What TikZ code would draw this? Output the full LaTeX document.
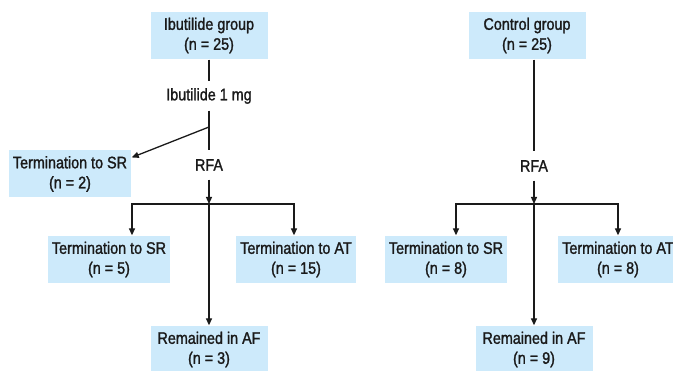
\documentclass[tikz,border=0pt]{standalone}
\usepackage{fontspec}
\setmainfont{Liberation Sans}[FakeStretch=0.86, FakeBold=1.4]
\usetikzlibrary{arrows.meta}
\definecolor{boxblue}{HTML}{CDEAFB}
\definecolor{ink}{HTML}{1A1A1A}
\begin{document}
\begin{tikzpicture}[x=1pt, y=-1pt, line width=1.3pt, draw=ink,
        box/.style={fill=boxblue, align=center, text=ink, minimum width=117pt, minimum height=47pt, inner xsep=4pt, font=\fontsize{16.7}{20}\selectfont},
        step txt/.style={text=ink, inner sep=0pt, minimum height=28pt, font=\fontsize{16.7}{20}\selectfont},
        arr/.style={-{Triangle[length=7pt,width=6pt]}}]
    \useasboundingbox (0, 0) rectangle (673, 371);

    \node[box] (ibu) at (209, 35.5) {Ibutilide group\\(n = 25)};
    \node[step txt] (dose) at (209, 96) {Ibutilide 1 mg};
    \node[step txt] (rfaL) at (209, 165) {RFA};
    \node[box] (sr2) at (70, 174) {Termination to SR\\(n = 2)};
    \node[box] (sr5) at (109, 259.5) {Termination to SR\\(n = 5)};
    \node[box] (at15) at (296, 259.5) {Termination to AT\\(n = 15)};
    \node[box] (afL) at (209, 349.5) {Remained in AF\\(n = 3)};
    \coordinate (splitL) at (209, 127);
    \coordinate (forkL) at (209, 204);

    \draw (ibu) -- (dose);
    \draw (dose) -- (rfaL);
    \draw[arr] (splitL) -- (sr2.15);
    \draw[arr] (rfaL) -- (forkL);
    \draw[arr] (forkL) -| ([xshift=23pt]sr5.north);
    \draw[arr] (forkL) -| ([xshift=-2pt]at15.north);
    \draw[arr] (forkL) -- (afL);

    \node[box] (ctrl) at (527, 35.5) {Control group\\(n = 25)};
    \node[step txt] (rfaR) at (534, 166) {RFA};
    \node[box] (sr8) at (446, 259.5) {Termination to SR\\(n = 8)};
    \node[box] (at8) at (618, 259.5) {Termination to AT\\(n = 8)};
    \node[box] (afR) at (534, 349.5) {Remained in AF\\(n = 9)};
    \coordinate (forkR) at (534, 204);

    \draw (ctrl.south -| rfaR) -- (rfaR);
    \draw[arr] (rfaR) -- (forkR);
    \draw[arr] (forkR) -| ([xshift=10pt]sr8.north);
    \draw[arr] (forkR) -| (at8.north);
    \draw[arr] (forkR) -- (afR);
\end{tikzpicture}
\end{document}
